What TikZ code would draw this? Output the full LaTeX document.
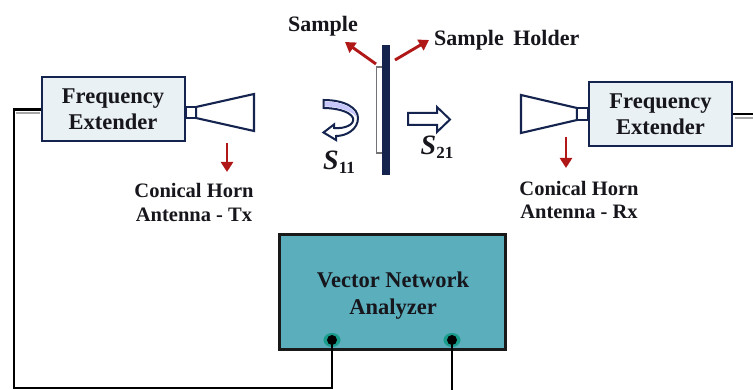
\documentclass[tikz,border=0pt]{standalone}
\usepackage{fontspec}
\setmainfont{Liberation Serif}
\usetikzlibrary{arrows.meta,shapes.geometric}
\definecolor{navy}{HTML}{14244F}
\definecolor{redarrow}{HTML}{B01818}
\definecolor{boxfill}{HTML}{E9F1F5}
\definecolor{teal}{HTML}{5BAFBC}
\definecolor{halo}{HTML}{1A9C8C}
\definecolor{txt}{HTML}{16161C}
\tikzset{
  x=1pt,y=-1pt,
  extender/.style={draw=navy,line width=2pt,fill=boxfill,minimum width=143pt,minimum height=64pt,inner sep=0pt,align=center,font=\fontsize{22.5}{26}\selectfont\bfseries,text=txt},
  label/.style={align=center,inner sep=0pt,text=txt,font=\fontsize{20.5}{23.5}\selectfont\bfseries},
  toplabel/.style={inner sep=0pt,text=txt,font=\fontsize{22}{26}\selectfont\bfseries},
  horn/.style={draw=navy,line width=2.1pt,fill=white,line join=miter},
  redptr/.style={draw=redarrow,line width=2.9pt,-{Triangle[length=10pt,width=12pt]}},
  wire/.style={draw=black,line width=2.9pt},
  shadowline/.style={draw=black!35,line width=1.6pt},
  port/.style={ellipse,fill=halo,minimum width=17pt,minimum height=14pt,inner sep=0pt},
  portcore/.style={circle,fill=black,minimum size=10pt,inner sep=0pt},
  sparam/.style={inner sep=0pt,text=txt,font=\fontsize{28}{28}\selectfont\bfseries\itshape},
  wavepath/.style={draw=navy,line width=2pt,line join=miter}
}
\newcommand{\subsc}[1]{\raisebox{-4pt}{\fontsize{17}{18}\selectfont\upshape\bfseries #1}}
\begin{document}
\begin{tikzpicture}
\useasboundingbox (0,0) rectangle (753,390);
\fill[white] (0,0) rectangle (753,390);

% frequency extenders
\node[extender] (feL) at (113,109.5) {Frequency\\Extender};
\node[extender] (feR) at (660.5,114) {Frequency\\Extender};

% horns
\draw[horn] (196,107) -- (254,94) -- (254,131) -- (196,118) -- cycle;
\draw[horn] (186,107) rectangle (196,118);
\draw[horn] (577,108) -- (521,95) -- (521,133) -- (577,120) -- cycle;
\draw[horn] (577,108) rectangle (588,120);

% vna
\node[draw=black!90,line width=2.6pt,fill=teal,minimum width=226pt,minimum height=115pt,inner sep=0pt] (vna) at (392.5,292) {};
\node[label,font=\fontsize{22.5}{27}\selectfont\bfseries] (vnatext) at (393,296) {Vector Network\\Analyzer};
\node[port] (p1) at (332,340) {};
\node[port] (p2) at (452,340) {};

% wires
\coordinate (lc1) at (14,109.5);
\coordinate (lc2) at (14,388);
\coordinate (lc3) at (332,388);
\coordinate (p2end) at (452,390);
\coordinate (rend) at (753,114);
\draw[shadowline] (16,113) -- (40,113);
\draw[shadowline] (735,118) -- (753,118);
\draw[wire,line join=miter] (feL.west) -- (lc1) -- (lc2) -- (lc3) -- (p1.center);
\draw[wire] (p2.center) -- (p2end);
\draw[wire] (feR.east) -- (rend);
\node[portcore] (p1c) at (p1) {};
\node[portcore] (p2c) at (p2) {};

% sample and holder
\draw[draw=black!55,line width=1.3pt,fill=white] (376.5,67) rectangle (384,153);
\fill[navy] (382,45) rectangle (389.5,175);

% red pointers
\coordinate (a1s) at (376,64);
\coordinate (a1e) at (345,42);
\coordinate (a2s) at (395,60);
\coordinate (a2e) at (429,40);
\coordinate (a3s) at (227,143);
\coordinate (a3e) at (227,172);
\coordinate (a4s) at (566,137);
\coordinate (a4e) at (566,168);
\draw[redptr] (a1s) -- (a1e);
\draw[redptr] (a2s) -- (a2e);
\draw[redptr] (a3s) -- (a3e);
\draw[redptr] (a4s) -- (a4e);

% labels
\node[toplabel,anchor=center] (sample) at (323,26) {Sample};
\node[toplabel,anchor=west] (holder) at (434,40) {Sample\hspace{4pt} Holder};
\node[label] (txL) at (194,202.5) {Conical Horn\\Antenna - Tx};
\node[label] (rxL) at (579,200) {Conical Horn\\Antenna - Rx};

% S11 arrow
\draw[wavepath,fill=white] (323.5,100) .. controls (345,100) and (358,108) .. (358,118)
  .. controls (358,129) and (347,136) .. (336,136) -- (336,140) -- (323.5,132.5) -- (334,124.5) -- (334,128)
  .. controls (344,129) and (355,125) .. (353,118)
  .. controls (350,111) and (335,108) .. (323.5,108) -- cycle;
\fill[black!5!blue!22!white] (325,101.5) .. controls (343,101.5) and (355,108) .. (356.5,117)
  .. controls (351,110) and (335,106.5) .. (325,106.5) -- cycle;

% S21 arrow
\draw[wavepath,fill=white] (408,113) -- (437,113) -- (437,107) -- (450,119.5) -- (437,132) -- (437,125) -- (408,125) -- cycle;

% S labels
\node[sparam] (s11) at (339,162) {S\subsc{11}};
\node[sparam] (s21) at (437,147) {S\subsc{21}};
\end{tikzpicture}
\end{document}
